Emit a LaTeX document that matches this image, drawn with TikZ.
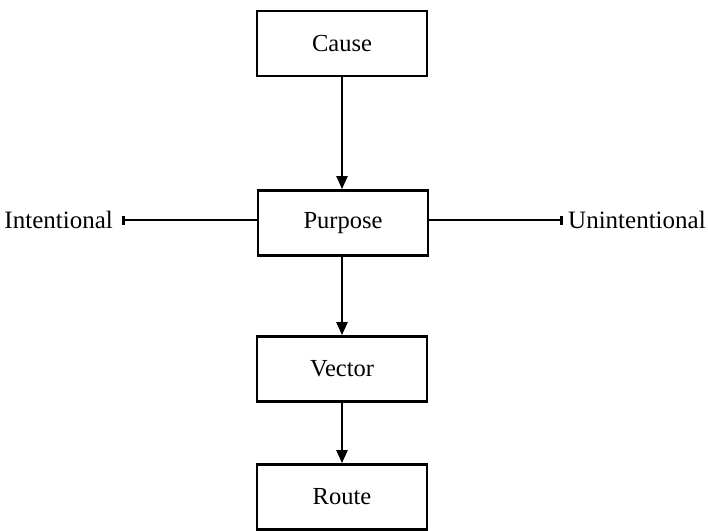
\documentclass[tikz,border=0pt]{standalone}
\usepackage{fontspec}
\setmainfont{Liberation Serif}
\usetikzlibrary{arrows.meta}
\begin{document}
\begin{tikzpicture}[x=1pt,y=-1pt,
  box/.style={draw, line width=2.8pt, minimum width=170pt, minimum height=65pt,
              inner sep=0pt, font=\fontsize{24.5}{28}\selectfont},
  lbl/.style={inner sep=0pt, font=\fontsize{25}{28}\selectfont},
  flow/.style={line width=2.4pt, -{Triangle[length=13pt,width=11pt]}},
  side/.style={line width=2.4pt, -{Bar[width=9pt,line width=2.8pt]}}]
\useasboundingbox (0,0) rectangle (708,530);
\node[box] (cause)   at (342,43.5) {Cause};
\node[box] (purpose) at (343,223)  {Purpose};
\node[box] (vector)  at (342,369)  {Vector};
\node[box] (route)   at (342,497)  {Route};
\node[lbl, anchor=east] (intl)   at (113,220) {Intentional};
\node[lbl, anchor=west] (unintl) at (568,220) {Unintentional};
\coordinate (intlend) at (122,220);
\coordinate (unintlend) at (563,220);
\draw[flow] (cause.south) -- (cause.south |- purpose.north);
\draw[flow] (purpose.south -| vector.north) -- (vector.north);
\draw[flow] (vector.south) -- (route.north);
\draw[side] (purpose.west |- intlend) -- (intlend);
\draw[side] (purpose.east |- unintlend) -- (unintlend);
\end{tikzpicture}
\end{document}
